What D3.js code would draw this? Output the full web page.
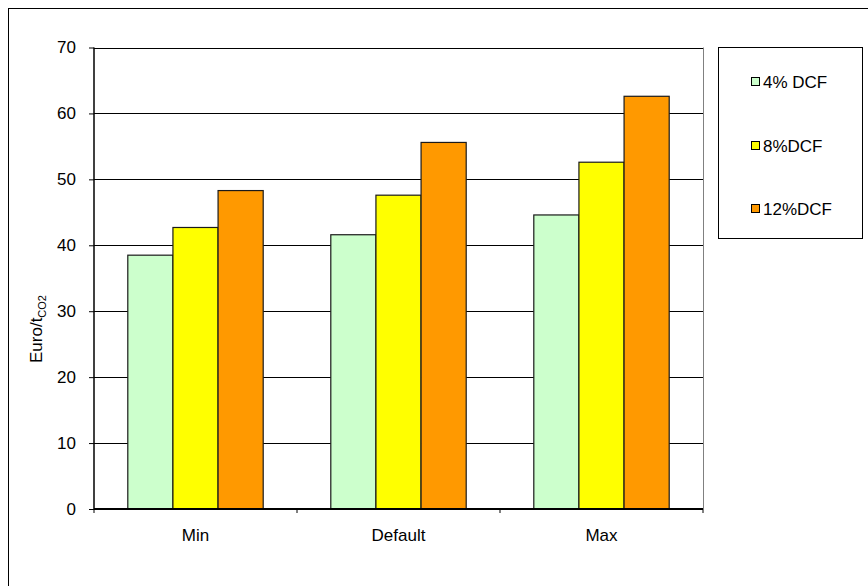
<!DOCTYPE html>
<html><head><meta charset="utf-8">
<script src="https://cdn.jsdelivr.net/npm/d3@7"></script>
<style>body{margin:0;background:#fff}svg{display:block}text{font-family:Arial,"Liberation Sans",sans-serif;fill:#000}</style>
</head><body>
<script>
const categories = ["Min", "Default", "Max"];
const seriesNames = ["4% DCF", "8%DCF", "12%DCF"];
const dcf4 = [38.5, 41.6, 44.6];
const dcf8 = [42.7, 47.6, 52.6];
const dcf12 = [48.3, 55.6, 62.6];
const yTicks = [0, 10, 20, 30, 40, 50, 60, 70];
const colors = ["#CCFFCC", "#FFFF00", "#FF9900"];
const series = [dcf4, dcf8, dcf12];

const W = 868, H = 586;
const svg = d3.select("body").append("svg").attr("width", W).attr("height", H);
const fs = 17;

// outer chart border
svg.append("rect").attr("x", 8.5).attr("y", 8.5).attr("width", W).attr("height", H)
  .attr("fill", "none").attr("stroke", "#000").attr("stroke-width", 1);

const pL = 94, pR = 703, pT = 47.5, pB = 509;
const y = d3.scaleLinear().domain([0, 70]).range([pB, pT]);
const x0 = d3.scaleBand().domain(categories).range([pL, pR]).paddingInner(0).paddingOuter(0);
const groupW = x0.bandwidth() * 0.667;
const x1 = d3.scaleBand().domain(d3.range(series.length)).range([0, groupW]);

// gridlines
svg.append("g").selectAll("line").data(yTicks.filter(d => d > 0)).join("line")
  .attr("x1", pL).attr("x2", pR)
  .attr("y1", d => Math.round(y(d)) + 0.5).attr("y2", d => Math.round(y(d)) + 0.5)
  .attr("stroke", "#000").attr("stroke-width", 1);

// plot area right border
svg.append("line").attr("x1", pR + 0.5).attr("x2", pR + 0.5).attr("y1", pT).attr("y2", pB)
  .attr("stroke", "#808080").attr("stroke-width", 1);

// bars
const g = svg.append("g");
categories.forEach((c, ci) => {
  const gx = x0(c) + (x0.bandwidth() - groupW) / 2;
  series.forEach((s, si) => {
    g.append("rect")
      .attr("x", gx + x1(si)).attr("width", x1.bandwidth())
      .attr("y", y(s[ci])).attr("height", pB - y(s[ci]))
      .attr("fill", colors[si]).attr("stroke", "#1a1a1a").attr("stroke-width", 1.2);
  });
});

// y axis
const yAxis = d3.axisLeft(y).tickValues(yTicks).tickSize(5).tickPadding(13).tickFormat(d3.format("d"));
const ya = svg.append("g").attr("transform", `translate(${pL},0)`).call(yAxis);
ya.select(".domain").attr("stroke", "#000").attr("stroke-width", 1.5).attr("d", `M0,${pT}V${pB}`);
ya.selectAll(".tick line").attr("stroke", "#000");
ya.selectAll(".tick text").attr("font-size", fs).attr("font-family", "Arial, 'Liberation Sans', sans-serif").attr("fill", "#000");

// x axis
const xAxis = d3.axisBottom(x0).tickSize(0).tickPadding(20);
const xa = svg.append("g").attr("transform", `translate(0,${pB})`).call(xAxis);
xa.select(".domain").attr("stroke", "#000").attr("stroke-width", 2).attr("d", `M${pL},0H${pR}`);
xa.selectAll(".tick text").attr("font-size", fs).attr("font-family", "Arial, 'Liberation Sans', sans-serif").attr("fill", "#000");
// category boundary ticks
const bounds = categories.map(c => x0(c)).concat([pR]);
xa.append("g").selectAll("line").data(bounds).join("line")
  .attr("x1", d => d).attr("x2", d => d).attr("y1", 0).attr("y2", 4)
  .attr("stroke", "#000").attr("stroke-width", 1);

// y axis title
const yt = svg.append("text").attr("transform", `translate(42,329) rotate(-90)`)
  .attr("text-anchor", "middle").attr("font-size", fs);
yt.append("tspan").text("Euro/t");
yt.append("tspan").attr("font-size", 11).attr("dy", 4).text("CO2");

// legend
svg.append("rect").attr("x", 718.5).attr("y", 47.5).attr("width", 144).attr("height", 191)
  .attr("fill", "#fff").attr("stroke", "#000").attr("stroke-width", 1);
const ly = [82, 146, 209];
seriesNames.forEach((n, i) => {
  svg.append("rect").attr("x", 751.5).attr("y", ly[i] - 4.5).attr("width", 8).attr("height", 8)
    .attr("fill", colors[i]).attr("stroke", "#000").attr("stroke-width", 1);
  svg.append("text").attr("x", 763).attr("y", ly[i]).attr("dy", "0.35em")
    .attr("font-size", fs).text(n);
});
</script>
</body></html>
